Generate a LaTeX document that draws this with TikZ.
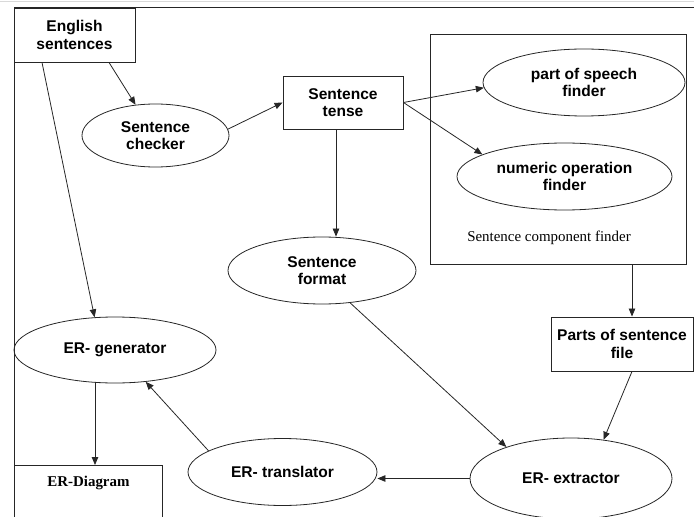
\documentclass[tikz,border=0pt]{standalone}
\usepackage{fontspec}
\setmainfont{Liberation Serif}
\setsansfont{Liberation Sans}
\usepackage{tikz}
\usetikzlibrary{shapes.geometric, arrows.meta, positioning}

\begin{document}
\begin{tikzpicture}[
    x=1bp, y=-1bp,
    box/.style={rectangle, draw=black!85, line width=0.9bp, align=center, inner sep=0pt,
        font=\sffamily\bfseries\fontsize{15.6}{17.5}\selectfont},
    oval/.style={ellipse, draw=black!85, line width=0.8bp, align=center, inner sep=0pt,
        font=\sffamily\bfseries\fontsize{15.6}{17.5}\selectfont},
    arrow/.style={-{Triangle[length=8bp, width=6.5bp]}, draw=black!85, line width=0.8bp}
]
\useasboundingbox (0,0) rectangle (694,517);

% Page frame
\draw[gray!30, line width=0.6bp] (0,1.5) -- (694,1.5);
\draw[black!85, line width=0.9bp] (694,7) -- (14,7) -- (14,517);

% Input
\node[box, minimum width=121bp, minimum height=54bp] (english) at (74.5,35) {English\\sentences};
\node[oval, minimum width=147bp, minimum height=63bp] (checker) at (155.5,135.5) {Sentence\\checker};
\node[box, minimum width=120bp, minimum height=53bp] (tense) at (343,102.5) {Sentence\\tense};

% Sentence component finder
\node[draw=black!85, line width=0.9bp, minimum width=256bp, minimum height=230bp] (finder) at (558,149) {};
\node[oval, minimum width=202bp, minimum height=67bp] (pos) at (584,82.5) {part of speech\\finder};
\node[oval, minimum width=215bp, minimum height=67bp] (numeric) at (564.5,176.5) {numeric operation\\finder};
\node[font=\fontsize{15}{17}\selectfont, inner sep=0pt] (findername) at (549,238) {Sentence component finder};

% Middle
\node[oval, minimum width=188bp, minimum height=67bp] (format) at (322,270.5) {Sentence\\format};
\node[box, minimum width=142bp, minimum height=54bp] (parts) at (622,344) {Parts of sentence\\file};

% ER part
\node[oval, minimum width=202bp, minimum height=66bp] (generator) at (115,350) {ER- generator};
\node[oval, minimum width=189bp, minimum height=67bp] (translator) at (282.5,472) {ER- translator};
\node[oval, minimum width=202bp, minimum height=81bp] (extractor) at (571,478.5) {ER- extractor};
\node[box, anchor=north west, minimum width=148bp, inner ysep=6bp, text height=15bp, text depth=45bp,
    font=\rmfamily\bfseries\fontsize{15}{17}\selectfont] (diagram) at (14,465) {ER-Diagram};

% Arrows
\draw[arrow] ([xshift=34.5bp]english.south) -- (checker.123);
\draw[arrow] ([xshift=-32.5bp]english.south) -- (generator.122);
\draw[arrow] (checker.5) -- (tense.west);
\draw[arrow] (tense.east) -- (pos.183);
\draw[arrow] (tense.east) -- (numeric.165);
\draw[arrow] ([xshift=-7bp]tense.south) -- ([xshift=-7bp]tense.south |- format.north);
\draw[arrow] ([xshift=74bp]finder.south) -- ([xshift=74bp]finder.south |- parts.north);
\draw[arrow] (format.-49) -- (extractor.154);
\draw[arrow] ([xshift=10bp]parts.south) -- (extractor.50);
\draw[arrow] (extractor.west) -- (extractor.west -| translator.east);
\draw[arrow] (translator.164) -- (generator.-46);
\draw[arrow] ([xshift=-20bp]generator.south) -- ([xshift=-20bp]generator.south |- diagram.north);
\end{tikzpicture}
\end{document}
